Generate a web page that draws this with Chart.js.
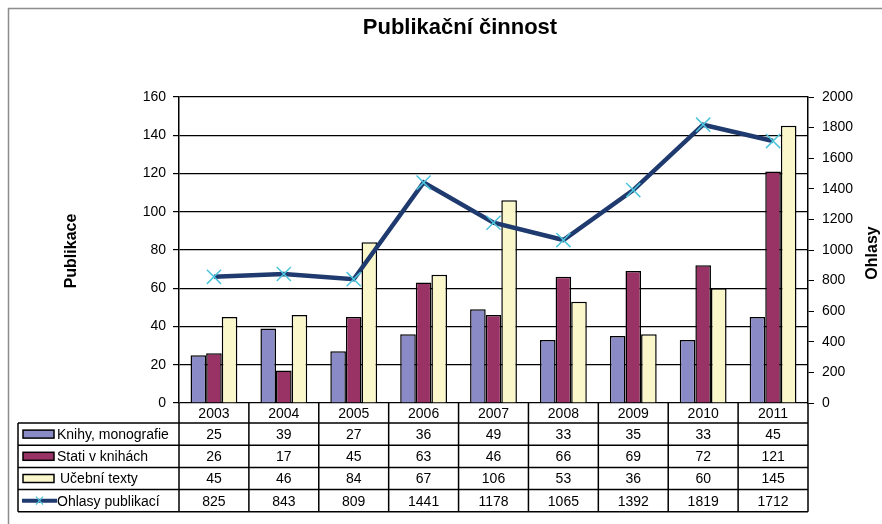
<!DOCTYPE html>
<html lang="cs">
<head>
<meta charset="UTF-8">
<title>Publikační činnost</title>
<script src="https://cdn.jsdelivr.net/npm/chart.js"></script>
<style>
  html, body { margin: 0; padding: 0; background: #fff; }
  #wrap { width: 882px; height: 524px; position: relative; }
</style>
</head>
<body>
<div id="wrap"><canvas id="chart" width="882" height="524"></canvas></div>
<script>
  // data
  const years = ['2003','2004','2005','2006','2007','2008','2009','2010','2011'];
  const knihy = [25, 39, 27, 36, 49, 33, 35, 33, 45];
  const stati = [26, 17, 45, 63, 46, 66, 69, 72, 121];
  const ucebni = [45, 46, 84, 67, 106, 53, 36, 60, 145];
  const ohlasy = [825, 843, 809, 1441, 1178, 1065, 1392, 1819, 1712];

  const cKnihy = '#8A8AC6', cStati = '#993366', cUcebni = '#FAF8CA';
  const cLine = '#1F3A6E', cMark = '#4CC4DC';
  const FONT = '"Liberation Sans", Arial, sans-serif';

  // table + titles + frame
  const extras = {
    id: 'extras',
    afterDraw(chart) {
      const ctx = chart.ctx, x = chart.scales.x, a = chart.chartArea;
      ctx.save();
      // frame
      ctx.strokeStyle = '#8c8c8c'; ctx.lineWidth = 1.5;
      ctx.beginPath(); ctx.moveTo(8.5, 524); ctx.lineTo(8.5, 8.5); ctx.lineTo(882, 8.5); ctx.stroke();
      // title
      ctx.fillStyle = '#000';
      ctx.font = 'bold 22px ' + FONT;
      ctx.textAlign = 'center'; ctx.textBaseline = 'middle';
      ctx.fillText('Publikační činnost', 460, 28);
      // axis titles
      ctx.font = 'bold 16px ' + FONT;
      ctx.save(); ctx.translate(72, 251); ctx.rotate(-Math.PI/2); ctx.fillText('Publikace', 0, 0); ctx.restore();
      ctx.save(); ctx.translate(873, 253); ctx.rotate(-Math.PI/2); ctx.fillText('Ohlasy', 0, 0); ctx.restore();

      // table
      const L = 18, top = a.bottom, rowH = 22.2, hdrH = 20;
      const cw = (a.right - a.left) / years.length;
      const rows = [
        {name: 'Knihy, monografie', vals: knihy, kind: 'bar', col: cKnihy},
        {name: 'Stati v knihách', vals: stati, kind: 'bar', col: cStati},
        {name: 'Učební texty', vals: ucebni, kind: 'bar', col: cUcebni},
        {name: 'Ohlasy publikací', vals: ohlasy, kind: 'line', col: cLine}
      ];
      const bodyTop = top + hdrH;
      const bottom = bodyTop + rows.length * rowH;
      ctx.strokeStyle = '#000'; ctx.lineWidth = 1.5;
      ctx.beginPath();
      for (let i = 0; i <= rows.length; i++) {
        const y = bodyTop + i * rowH;
        ctx.moveTo(L, y); ctx.lineTo(a.right, y);
      }
      for (let j = 0; j <= years.length; j++) {
        const xx = a.left + j * cw;
        ctx.moveTo(xx, top); ctx.lineTo(xx, bottom);
      }
      ctx.moveTo(L, bodyTop); ctx.lineTo(L, bottom);
      ctx.stroke();

      ctx.font = '14px ' + FONT;
      ctx.fillStyle = '#000';
      ctx.textAlign = 'center';
      years.forEach((yr, j) => ctx.fillText(yr, x.getPixelForValue(j), top + hdrH / 2 + 1));
      rows.forEach((r, i) => {
        const cy = bodyTop + i * rowH + rowH / 2 + 1;
        r.vals.forEach((v, j) => { ctx.fillStyle = '#000'; ctx.textAlign = 'center'; ctx.fillText(String(v), x.getPixelForValue(j), cy); });
        // legend key
        if (r.kind === 'bar') {
          ctx.fillStyle = r.col; ctx.fillRect(23, cy - 5, 31, 8);
          ctx.strokeStyle = '#000'; ctx.lineWidth = 1.5; ctx.strokeRect(23, cy - 5, 31, 8);
        } else {
          ctx.strokeStyle = r.col; ctx.lineWidth = 4;
          ctx.beginPath(); ctx.moveTo(22, cy - 1); ctx.lineTo(57, cy - 1); ctx.stroke();
          ctx.strokeStyle = cMark; ctx.lineWidth = 1.2;
          ctx.beginPath(); ctx.moveTo(36, cy - 5); ctx.lineTo(43, cy + 3); ctx.moveTo(43, cy - 5); ctx.lineTo(36, cy + 3); ctx.stroke();
        }
        ctx.fillStyle = '#000'; ctx.textAlign = 'left';
        ctx.fillText(r.name, i === 2 ? 60 : 57, cy);
      });
      ctx.restore();
    }
  };

  Chart.defaults.font.family = FONT;
  Chart.defaults.font.size = 14;
  Chart.defaults.color = '#000';

  new Chart(document.getElementById('chart'), {
    data: {
      labels: years,
      datasets: [
        {type: 'line', label: 'Ohlasy publikací', data: ohlasy, yAxisID: 'y1', borderColor: cLine, borderWidth: 4.5,
         pointStyle: 'crossRot', pointRadius: 10, pointBorderColor: cMark, pointBorderWidth: 1.5, pointBackgroundColor: cMark, order: 0},
        {type: 'bar', label: 'Knihy, monografie', data: knihy, backgroundColor: cKnihy, borderColor: '#000', borderWidth: 1.5, order: 1},
        {type: 'bar', label: 'Stati v knihách', data: stati, backgroundColor: cStati, borderColor: '#000', borderWidth: 1.5, order: 1},
        {type: 'bar', label: 'Učební texty', data: ucebni, backgroundColor: cUcebni, borderColor: '#000', borderWidth: 1.5, order: 1}
      ]
    },
    options: {
      responsive: false,
      animation: false,
      datasets: {bar: {categoryPercentage: 0.67, barPercentage: 1}},
      layout: {padding: {top: 97, bottom: 121, left: 0, right: 0}},
      plugins: {legend: {display: false}, tooltip: {enabled: false}, title: {display: false}},
      scales: {
        x: {display: false, offset: true},
        y: {
          position: 'left', min: 0, max: 160,
          ticks: {stepSize: 20, padding: 7},
          grid: {color: '#000', lineWidth: 1.2, tickLength: 6, tickColor: '#000'},
          border: {color: '#000', width: 1.5},
          afterFit(s) { s.width = 179; }
        },
        y1: {
          position: 'right', min: 0, max: 2000,
          ticks: {stepSize: 200, padding: 8, callback: v => String(v)},
          grid: {drawOnChartArea: false, tickLength: 6, tickColor: '#000'},
          border: {color: '#000', width: 1.5},
          afterFit(s) { s.width = 74; }
        }
      }
    },
    plugins: [extras]
  });
</script>
</body>
</html>
